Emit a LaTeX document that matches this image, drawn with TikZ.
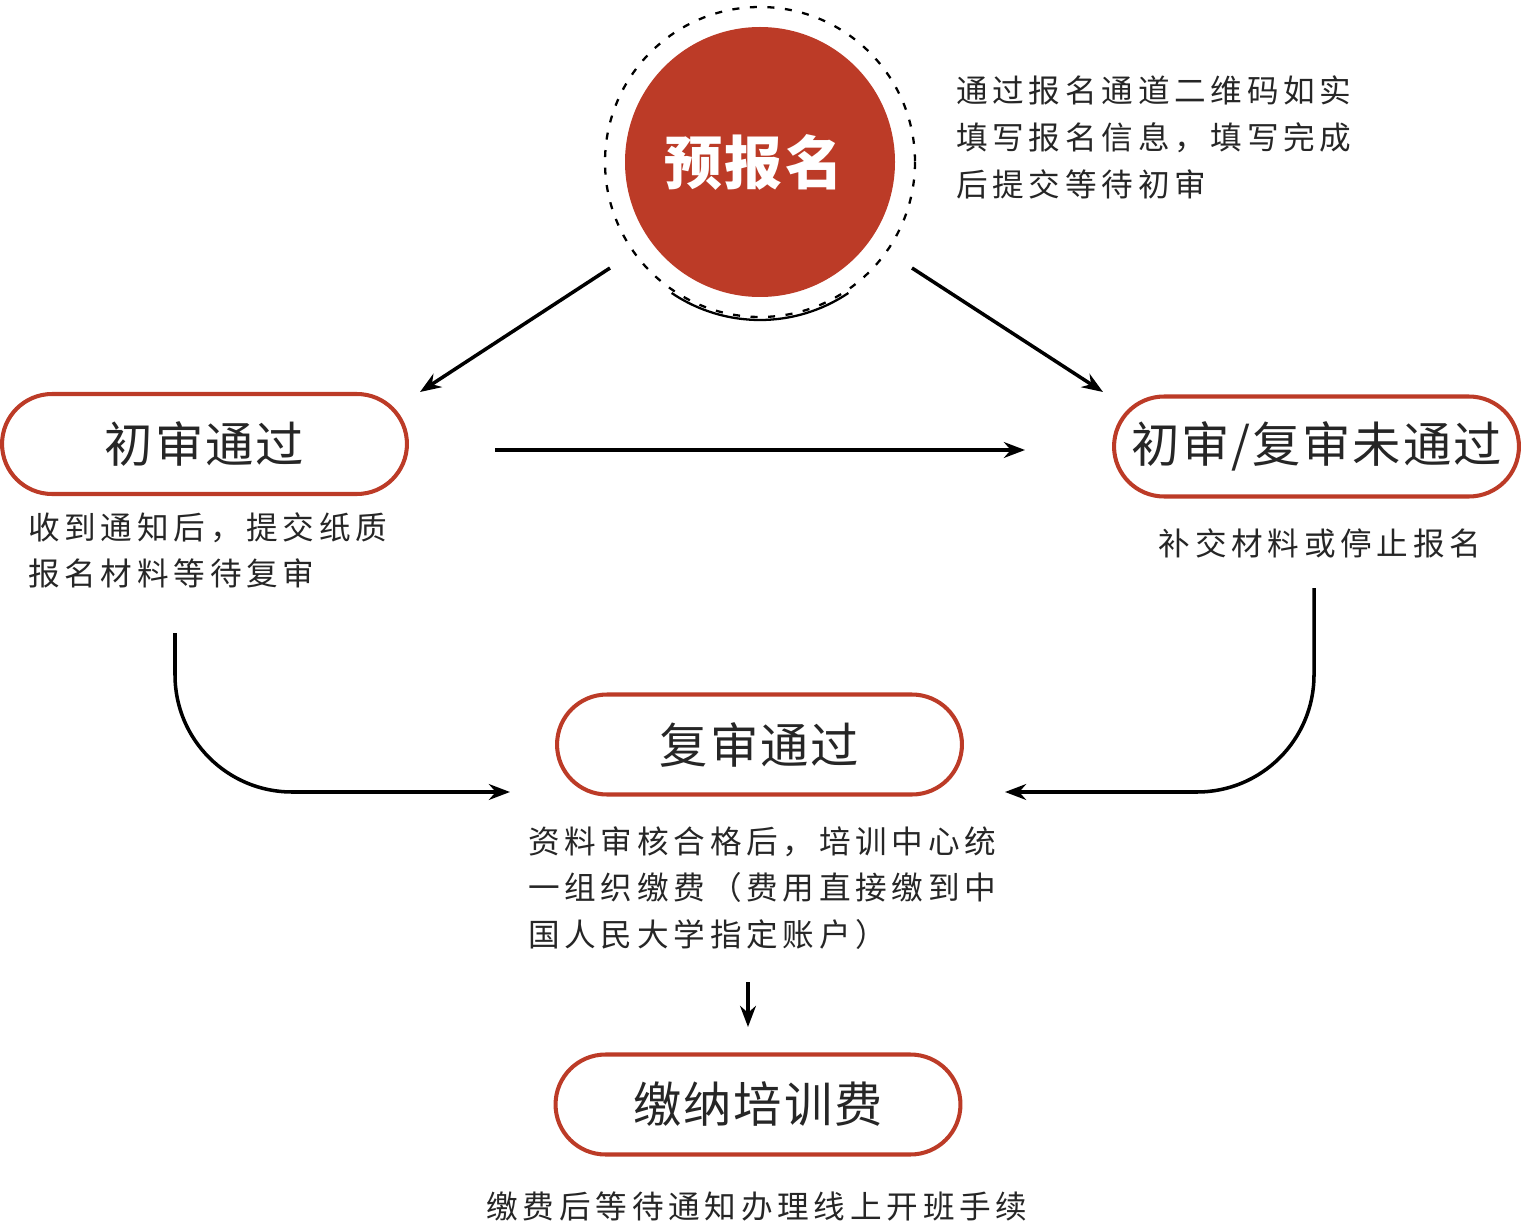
\documentclass[tikz,border=0pt]{standalone}
\usepackage{fontspec}
\setmainfont{Noto Sans CJK SC}
\usetikzlibrary{arrows.meta}
\definecolor{brickred}{HTML}{BC3B27}
\tikzset{
  stagebox/.style={draw=brickred, line width=2.3pt, rounded corners=1cm, minimum width=8.1cm, minimum height=2cm, font=\fontsize{27.5}{32}\selectfont\addfontfeatures{LetterSpace=4}, text=black!85},
  note/.style={font=\fontsize{18}{26.6}\selectfont\addfontfeatures{LetterSpace=15}, text=black!85, align=left},
  flow/.style={line width=2pt, -{Stealth[length=12pt,width=9pt]}}
}
\begin{document}
\begin{tikzpicture}[x=0.02cm, y=-0.02cm]
\useasboundingbox (0,0) rectangle (1522,1223);

%Pre-registration circle
\draw [line width=1.3pt, dash pattern=on 4pt off 6pt] (760,162) circle (155);
\fill [brickred] (760,162) circle (135);
\draw [line width=1.3pt] (760,162) ++(56:158) arc (56:124:158);
\node (pre) [text=white, font=\bfseries\fontsize{33}{38}\selectfont\addfontfeatures{LetterSpace=4}] at (754,162) {预报名};
\node (prenote) [note, anchor=north west] at (950,70) {通过报名通道二维码如实\\填写报名信息，填写完成\\后提交等待初审};

%Stage boxes
\node (first) [stagebox] at (204.5,444) {初审通过};
\node (fail) [stagebox] at (1316.5,446.5) {初审/复审未通过};
\node (second) [stagebox] at (759.5,744.5) {复审通过};
\node (fee) [stagebox] at (758,1104.5) {缴纳培训费};

%Notes
\node (firstnote) [note, anchor=north west] at (22,506) {收到通知后，提交纸质\\报名材料等待复审};
\node (failnote) [note] at (1320,543) {补交材料或停止报名};
\node (secondnote) [note, anchor=north west] at (522,820) {资料审核合格后，培训中心统\\一组织缴费（费用直接缴到中\\国人民大学指定账户）};
\node (feenote) [note] at (757,1206) {缴费后等待通知办理线上开班手续};

%Connector ends
\coordinate (preL) at (610,268);
\coordinate (preR) at (912,268);
\coordinate (firstT) at (420,392);
\coordinate (failT) at (1103,392);
\coordinate (midL) at (495,450);
\coordinate (midR) at (1025,450);
\coordinate (firstB) at (175,633);
\coordinate (secondL) at (510,792);
\coordinate (failB) at (1314,588);
\coordinate (secondR) at (1005,792);
\coordinate (noteB) at (748,982);
\coordinate (feeT) at (748,1027);

%Arrows
\draw [flow] (preL) -- (firstT);
\draw [flow] (preR) -- (failT);
\draw [flow, line width=2.6pt] (midL) -- (midR);
\draw [flow] (firstB) -- (175,675) arc (180:90:117) -- (secondL);
\draw [flow] (failB) -- (1314,675) arc (0:90:117) -- (secondR);
\draw [flow] (noteB) -- (feeT);

\end{tikzpicture}
\end{document}
